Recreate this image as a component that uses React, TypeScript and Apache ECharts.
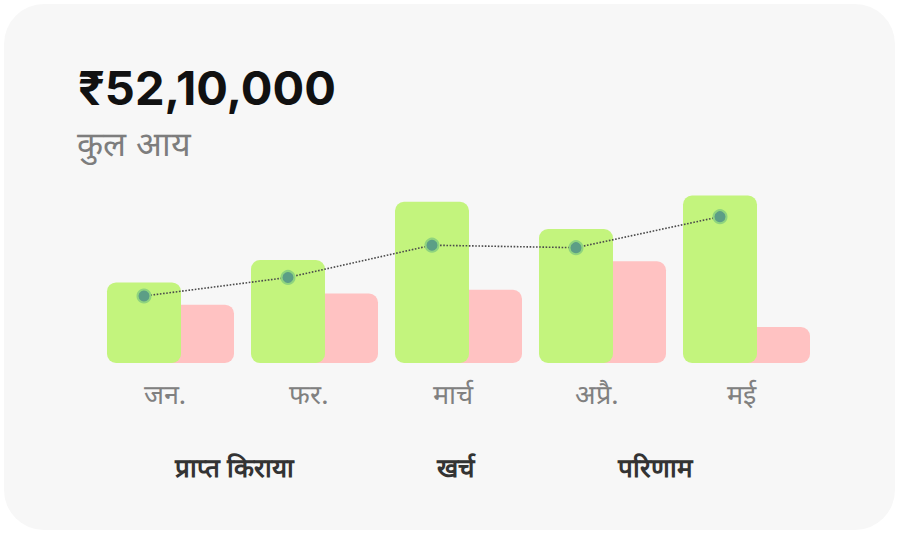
import React, { useEffect, useRef } from "react";
import * as echarts from "echarts";

const months = ["जन.", "फर.", "मार्च", "अप्रै.", "मई"];
const rentReceived = [6.5, 8.3, 13.0, 10.8, 13.5];
const expenses = [4.7, 5.6, 5.9, 8.2, 2.9];
const result = [5.4, 6.9, 9.5, 9.3, 11.8];
const seriesNames = ["प्राप्त किराया", "खर्च", "परिणाम"];
const totalText = "₹52,10,000";
const subtitleText = "कुल आय";

export default function App() {
  const ref = useRef<HTMLDivElement>(null);
  useEffect(() => {
    if (!ref.current) return;
    const chart = echarts.init(ref.current, null, { renderer: "svg" });
    const font = "Inter, Roboto, sans-serif";
    chart.setOption({
      animation: false,
      backgroundColor: "#ffffff",
      textStyle: { fontFamily: font },
      graphic: [
        {
          type: "rect",
          z: -10,
          silent: true,
          shape: { x: 4, y: 4, width: 891, height: 526, r: 40 },
          style: { fill: "#f7f7f7" },
        },
        {
          type: "text",
          left: 78,
          top: 64,
          style: { text: totalText, font: `bold 47px ${font}`, fill: "#111111" },
        },
        {
          type: "text",
          left: 77,
          top: 126,
          style: { text: subtitleText, font: `34px ${font}`, fill: "#7d7d7d" },
        },
      ],
      legend: {
        data: seriesNames,
        left: 165,
        top: 449,
        icon: "none",
        itemWidth: 0,
        itemHeight: 0,
        itemGap: 138,
        selectedMode: false,
        textStyle: { fontSize: 26, color: "#333333", fontWeight: 600, fontFamily: font },
      },
      grid: [
        { left: 72, width: 720, top: 177, bottom: 172 },
        { left: 125, width: 720, top: 177, bottom: 172 },
      ],
      xAxis: [
        {
          type: "category",
          gridIndex: 0,
          data: months,
          axisLine: { show: false },
          axisTick: { show: false },
          axisLabel: {
            color: "#808080",
            fontSize: 27,
            margin: 18,
            padding: [0, 0, 0, 42],
            fontFamily: font,
          },
        },
        { type: "category", gridIndex: 1, data: months, show: false },
      ],
      yAxis: [
        { type: "value", gridIndex: 0, min: 0, max: 15, show: false, splitLine: { show: false } },
        { type: "value", gridIndex: 1, min: 0, max: 15, show: false, splitLine: { show: false } },
      ],
      series: [
        {
          name: seriesNames[0],
          type: "bar",
          xAxisIndex: 0,
          yAxisIndex: 0,
          data: rentReceived,
          barWidth: 74,
          z: 3,
          itemStyle: { color: "#c3f47d", borderRadius: 9 },
        },
        {
          name: seriesNames[1],
          type: "bar",
          xAxisIndex: 1,
          yAxisIndex: 1,
          data: expenses,
          barWidth: 74,
          z: 2,
          itemStyle: { color: "#ffc2c2", borderRadius: 9 },
        },
        {
          name: seriesNames[2],
          type: "line",
          xAxisIndex: 0,
          yAxisIndex: 0,
          data: result,
          z: 5,
          symbol: "circle",
          symbolSize: 13,
          lineStyle: { type: "dotted", width: 1.6, color: "#4a4a4a" },
          itemStyle: { color: "#5c9e86", borderColor: "#8fd47e", borderWidth: 2 },
        },
      ],
    });
    return () => chart.dispose();
  }, []);
  return (
    <div
      ref={ref}
      style={{ position: "absolute", left: 0, top: 0, width: 900, height: 535 }}
    />
  );
}
